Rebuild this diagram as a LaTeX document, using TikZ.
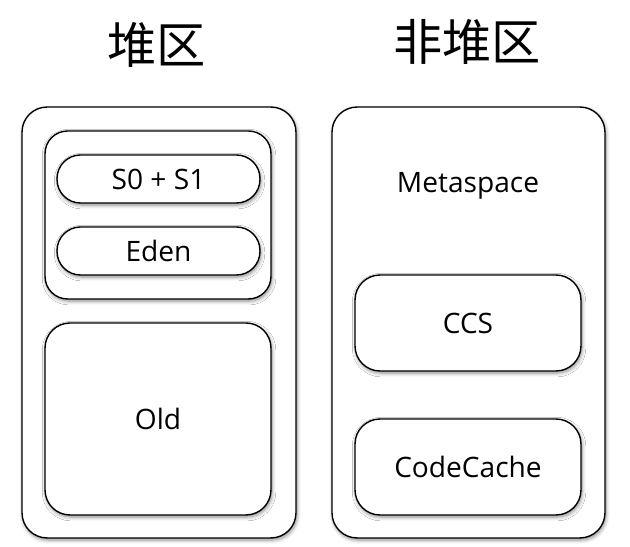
\documentclass[tikz,border=0pt]{standalone}
\usepackage{fontspec}
\setmainfont{Open Sans}
\newfontfamily\cjk{Noto Sans CJK SC}
\usetikzlibrary{positioning,shadows.blur}
\begin{document}
\begin{tikzpicture}[
    x=0.02cm, y=-0.02cm,
    area/.style={rectangle, draw, line width=0.8pt, fill=white, rounded corners=0.5cm,
        blur shadow={shadow xshift=0.6pt, shadow yshift=-1.2pt, shadow blur steps=6, shadow opacity=45},
        font=\fontsize{16}{19}\selectfont},
    title/.style={font=\cjk\fontsize{28}{32}\selectfont}
]
    \useasboundingbox (0,0) rectangle (630,547);

    % heap
    \node[title] (heaptitle) at (157,45) {堆区};
    \node[area, minimum width=5.48cm, minimum height=8.62cm] (heap) at (159,322.5) {};
    \node[area, minimum width=4.52cm, minimum height=3.36cm, rounded corners=0.45cm] (young) at (158,215) {};
    \node[area, minimum width=4.06cm, minimum height=0.96cm, rounded corners=0.47cm] (survivor) at (158.5,179) {S0 + S1};
    \node[area, minimum width=4.06cm, minimum height=0.96cm, rounded corners=0.47cm] (eden) at (158.5,251) {Eden};
    \node[area, minimum width=4.52cm, minimum height=3.84cm] (old) at (158,419) {Old};

    % non-heap
    \node[title] (nonheaptitle) at (467,42) {非堆区};
    \node[area, minimum width=5.46cm, minimum height=8.62cm] (nonheap) at (468.5,322.5) {};
    \node[font=\fontsize{16}{19}\selectfont] (meta) at (468,186) {Metaspace};
    \node[area, minimum width=4.52cm, minimum height=1.92cm] (ccs) at (468,323) {CCS};
    \node[area, minimum width=4.52cm, minimum height=1.92cm] (codecache) at (468,467) {CodeCache};
\end{tikzpicture}
\end{document}
